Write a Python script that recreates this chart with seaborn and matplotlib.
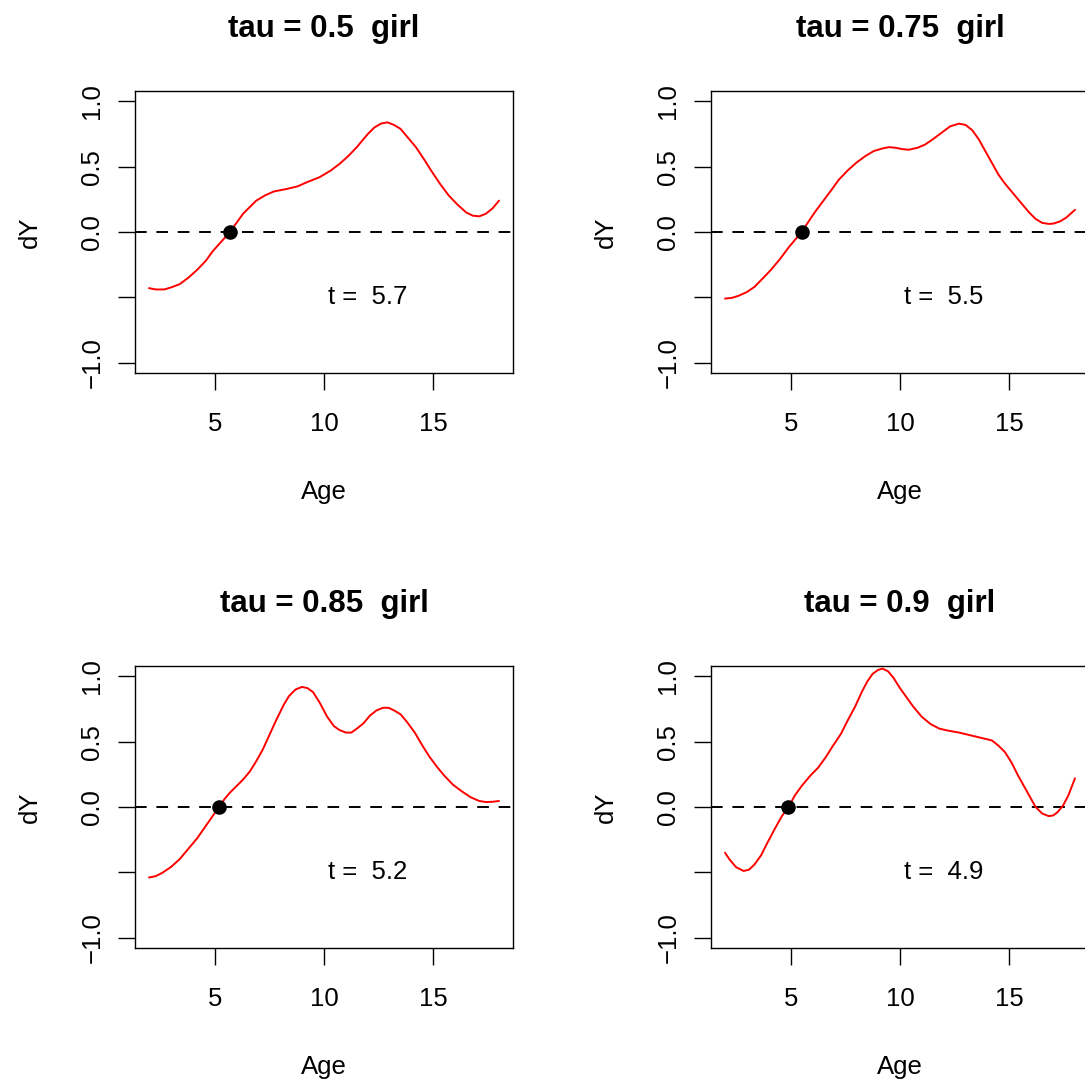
import matplotlib
matplotlib.use("Agg")
import matplotlib.pyplot as plt
import seaborn as sns
import pandas as pd

# ---- data ----
taus = ["0.5", "0.75", "0.85", "0.9"]
t_values = [5.7, 5.5, 5.2, 4.9]

age_tau50 = [2.0, 2.3, 2.7, 3.0, 3.4, 3.8, 4.2, 4.6, 4.9, 5.3, 5.7, 6.0, 6.3, 6.6, 6.9, 7.3, 7.7,
             8.3, 8.8, 9.2, 9.8, 10.3, 10.7, 11.1, 11.5, 11.8, 12.0, 12.3, 12.6, 12.9, 13.2, 13.5,
             13.8, 14.2, 14.6, 14.9, 15.3, 15.7, 16.1, 16.5, 16.8, 17.1, 17.4, 17.7, 18.0]
dy_tau50 = [-0.43, -0.44, -0.44, -0.425, -0.40, -0.35, -0.29, -0.22, -0.15, -0.075, 0.0, 0.07, 0.14,
            0.19, 0.24, 0.28, 0.31, 0.33, 0.35, 0.38, 0.42, 0.47, 0.52, 0.58, 0.65, 0.71, 0.75, 0.80,
            0.83, 0.84, 0.82, 0.79, 0.73, 0.65, 0.55, 0.47, 0.37, 0.28, 0.21, 0.15, 0.125, 0.12,
            0.14, 0.18, 0.24]

age_tau75 = [2.0, 2.3, 2.6, 3.0, 3.35, 3.7, 4.1, 4.5, 4.9, 5.2, 5.5, 5.8, 6.1, 6.5, 6.9, 7.2, 7.6,
             8.0, 8.4, 8.8, 9.2, 9.5, 9.8, 10.1, 10.4, 10.8, 11.15, 11.5, 11.9, 12.3, 12.7, 13.0,
             13.3, 13.6, 13.9, 14.2, 14.5, 14.8, 15.1, 15.5, 15.9, 16.2, 16.5, 16.8, 17.0, 17.3,
             17.6, 18.0]
dy_tau75 = [-0.51, -0.505, -0.49, -0.46, -0.42, -0.36, -0.29, -0.21, -0.12, -0.06, 0.0, 0.075, 0.15,
            0.24, 0.33, 0.40, 0.47, 0.53, 0.58, 0.62, 0.64, 0.65, 0.645, 0.635, 0.63, 0.645, 0.67,
            0.71, 0.76, 0.81, 0.83, 0.82, 0.78, 0.71, 0.62, 0.53, 0.44, 0.37, 0.31, 0.23, 0.15,
            0.10, 0.07, 0.062, 0.064, 0.08, 0.11, 0.17]

age_tau85 = [2.0, 2.3, 2.6, 3.0, 3.4, 3.8, 4.2, 4.7, 5.2, 5.45, 5.7, 6.0, 6.3, 6.6, 6.9, 7.2, 7.5,
             7.8, 8.15, 8.4, 8.7, 9.0, 9.25, 9.5, 9.8, 10.15, 10.45, 10.7, 11.0, 11.25, 11.5, 11.8,
             12.1, 12.4, 12.7, 12.95, 13.2, 13.5, 13.8, 14.15, 14.5, 14.8, 15.2, 15.5, 15.9, 16.3,
             16.7, 17.1, 17.4, 17.7, 18.0]
dy_tau85 = [-0.54, -0.53, -0.505, -0.46, -0.40, -0.32, -0.24, -0.12, 0.0, 0.06, 0.11, 0.16, 0.21,
            0.27, 0.35, 0.44, 0.55, 0.66, 0.78, 0.85, 0.90, 0.92, 0.91, 0.88, 0.80, 0.69, 0.62,
            0.59, 0.57, 0.57, 0.60, 0.64, 0.70, 0.74, 0.76, 0.76, 0.74, 0.71, 0.65, 0.57, 0.47,
            0.39, 0.30, 0.24, 0.17, 0.12, 0.075, 0.046, 0.038, 0.04, 0.046]

age_tau90 = [2.0, 2.2, 2.5, 2.85, 3.1, 3.35, 3.65, 3.95, 4.3, 4.6, 4.9, 5.2, 5.5, 5.9, 6.25, 6.6,
             6.9, 7.3, 7.6, 7.95, 8.25, 8.5, 8.75, 9.0, 9.2, 9.45, 9.7, 10.0, 10.3, 10.6, 11.0,
             11.4, 11.8, 12.2, 12.7, 13.2, 13.7, 14.2, 14.5, 14.8, 15.1, 15.4, 15.8, 16.2, 16.5,
             16.8, 17.0, 17.2, 17.45, 17.7, 18.0]
dy_tau90 = [-0.35, -0.40, -0.46, -0.49, -0.48, -0.44, -0.37, -0.27, -0.16, -0.07, 0.0, 0.09, 0.16,
            0.24, 0.30, 0.38, 0.46, 0.56, 0.66, 0.77, 0.88, 0.96, 1.02, 1.05, 1.06, 1.04, 0.99,
            0.91, 0.84, 0.77, 0.69, 0.635, 0.60, 0.585, 0.57, 0.55, 0.53, 0.51, 0.47, 0.42, 0.34,
            0.24, 0.12, 0.0, -0.05, -0.07, -0.065, -0.04, 0.01, 0.09, 0.22]

ages = [age_tau50, age_tau75, age_tau85, age_tau90]
dys = [dy_tau50, dy_tau75, dy_tau85, dy_tau90]

x_ticks = [5, 10, 15]
y_ticks = [-1.0, -0.5, 0.0, 0.5, 1.0]
y_ticklabels = ["\u22121.0", "", "0.0", "0.5", "1.0"]

# ---- style ----
sns.set_theme(style="white")
plt.rcParams["font.family"] = ["Liberation Sans", "DejaVu Sans"]
plt.rcParams["axes.unicode_minus"] = True

W, H = 1085, 1081
fig = plt.figure(figsize=(W / 100, H / 100), dpi=100)
fig.patch.set_facecolor("white")

lefts = [135, 711, 135, 711]
tops = [91, 91, 666, 666]
bw, bh = 378, 282

tick_fs = 18.5
title_fs = 22.5

for i in range(4):
    l, t = lefts[i], tops[i]
    ax = fig.add_axes([l / W, 1 - (t + bh) / H, bw / W, bh / H])
    ax.set_facecolor("white")
    df = pd.DataFrame({"Age": ages[i], "dY": dys[i]})
    sns.lineplot(data=df, x="Age", y="dY", ax=ax, color="red", linewidth=1.4,
                 sort=False, estimator=None)
    for ln in ax.get_lines():
        ln.set_solid_joinstyle("round")
    ax.axhline(0, color="black", linestyle=(0, (6.0, 5.0)), linewidth=1.4, zorder=1)
    sns.scatterplot(x=[t_values[i]], y=[0.0], ax=ax, color="black", s=110,
                    edgecolor="black", linewidth=0, zorder=5)
    ax.text(12, -0.5, "t =  %.1f" % t_values[i], fontsize=tick_fs, ha="center",
            va="center", color="black")

    ax.set_xlim(1.36, 18.64)
    ax.set_ylim(-1.08, 1.08)
    ax.set_xticks(x_ticks)
    ax.set_xticklabels([str(v) for v in x_ticks], fontsize=tick_fs)
    ax.set_yticks(y_ticks)
    ax.set_yticklabels(y_ticklabels, fontsize=tick_fs, rotation=90, va="center")
    ax.tick_params(axis="x", direction="out", length=12, width=1.0, pad=16,
                   colors="black", bottom=True)
    ax.tick_params(axis="y", direction="out", length=12, width=1.0, pad=10,
                   colors="black", left=True)
    for sp in ax.spines.values():
        sp.set_visible(True)
        sp.set_color("black")
        sp.set_linewidth(1.0)

    ax.set_xlabel("Age", fontsize=tick_fs, va="center", color="black")
    ax.set_ylabel("dY", fontsize=tick_fs, va="center", color="black")
    ax.xaxis.set_label_coords(0.5, -119 / bh)
    ax.yaxis.set_label_coords(-105 / bw, 0.5)

    ax.text(0.5, 1 + 62 / bh, "tau = %s  girl" % taus[i], transform=ax.transAxes,
            fontsize=title_fs, fontweight="bold", ha="center", va="center", color="black")
    ax.grid(False)

fig.savefig("out.png", dpi=100, facecolor="white")
